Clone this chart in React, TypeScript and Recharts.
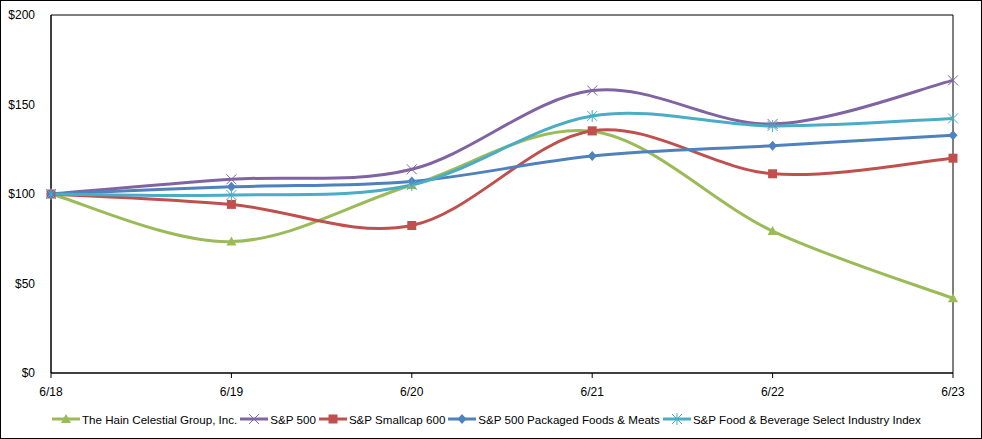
import React from "react";
import {
  LineChart,
  Line,
  XAxis,
  YAxis,
  ReferenceArea,
} from "recharts";

const periods = ["6/18", "6/19", "6/20", "6/21", "6/22", "6/23"];
const hain = [100, 73.4, 105, 135, 79.3, 41.7];
const sp500 = [100, 108.2, 113.8, 157.8, 139.1, 163.5];
const smallcap = [100, 94.2, 82.4, 135.3, 111.3, 120];
const packaged = [100, 104, 107, 121.2, 127, 132.8];
const foodBev = [100, 99.4, 105, 143.6, 138, 142.2];
const yTicks = [0, 50, 100, 150, 200];

const FONT = "'Liberation Sans', Arial, sans-serif";

const data = periods.map((p, i) => ({
  period: p,
  hain: hain[i],
  sp500: sp500[i],
  smallcap: smallcap[i],
  packaged: packaged[i],
  foodBev: foodBev[i],
}));

// Excel-style smoothed line (Catmull-Rom through the points)
function smoothCurve(context: any) {
  let pts: number[][] = [];
  return {
    areaStart() {},
    areaEnd() {},
    lineStart() {
      pts = [];
    },
    point(x: number, y: number) {
      pts.push([+x, +y]);
    },
    lineEnd() {
      if (!pts.length) return;
      context.moveTo(pts[0][0], pts[0][1]);
      for (let i = 0; i < pts.length - 1; i++) {
        const p0 = pts[i - 1] || pts[i];
        const p1 = pts[i];
        const p2 = pts[i + 1];
        const p3 = pts[i + 2] || p2;
        context.bezierCurveTo(
          p1[0] + (p2[0] - p0[0]) / 6,
          p1[1] + (p2[1] - p0[1]) / 6,
          p2[0] - (p3[0] - p1[0]) / 6,
          p2[1] - (p3[1] - p1[1]) / 6,
          p2[0],
          p2[1]
        );
      }
    },
  };
}

type Shape = "triangle" | "x" | "square" | "diamond" | "star";

function Marker({ cx, cy, shape, color }: { cx: number; cy: number; shape: Shape; color: string }) {
  if (cx == null || cy == null) return null;
  switch (shape) {
    case "triangle":
      return <polygon points={`${cx},${cy - 5} ${cx + 5},${cy + 4} ${cx - 5},${cy + 4}`} fill={color} />;
    case "square":
      return <rect x={cx - 4.5} y={cy - 4.5} width={9} height={9} fill={color} />;
    case "diamond":
      return <polygon points={`${cx},${cy - 5} ${cx + 4.5},${cy} ${cx},${cy + 5} ${cx - 4.5},${cy}`} fill={color} />;
    case "x":
      return (
        <g stroke={color} strokeWidth={1}>
          <line x1={cx - 5} y1={cy - 5} x2={cx + 5} y2={cy + 5} />
          <line x1={cx - 5} y1={cy + 5} x2={cx + 5} y2={cy - 5} />
        </g>
      );
    case "star":
      return (
        <g stroke={color} strokeWidth={1}>
          <line x1={cx - 5} y1={cy - 5} x2={cx + 5} y2={cy + 5} />
          <line x1={cx - 5} y1={cy + 5} x2={cx + 5} y2={cy - 5} />
          <line x1={cx} y1={cy - 6} x2={cx} y2={cy + 6} />
        </g>
      );
  }
  return null;
}

const series: { key: string; name: string; color: string; shape: Shape }[] = [
  { key: "hain", name: "The Hain Celestial Group, Inc.", color: "#9BBB59", shape: "triangle" },
  { key: "sp500", name: "S&P 500", color: "#8064A2", shape: "x" },
  { key: "smallcap", name: "S&P Smallcap 600", color: "#C0504D", shape: "square" },
  { key: "packaged", name: "S&P 500 Packaged Foods & Meats", color: "#4F81BD", shape: "diamond" },
  { key: "foodBev", name: "S&P Food & Beverage Select Industry Index", color: "#4BACC6", shape: "star" },
];

export default function App() {
  return (
    <div style={{ position: "absolute", left: 0, top: 0, width: 982, height: 439, background: "#fff" }}>
      <LineChart
        width={982}
        height={439}
        data={data}
        margin={{ top: 15, right: 29, left: 0, bottom: 36 }}
      >
        <XAxis
          dataKey="period"
          height={30}
          axisLine={{ stroke: "#000" }}
          tickLine={{ stroke: "#000" }}
          tickSize={5}
          tickMargin={9}
          tick={{ fill: "#000", fontSize: 12, fontFamily: FONT }}
          interval={0}
        />
        <YAxis
          width={51}
          domain={[0, 200]}
          ticks={yTicks}
          tickFormatter={(v) => `$${v}`}
          axisLine={{ stroke: "#000" }}
          tickLine={false}
          tickSize={0}
          tickMargin={16}
          tick={{ fill: "#000", fontSize: 12, fontFamily: FONT }}
        />
        <ReferenceArea
          x1="6/18"
          x2="6/23"
          y1={0}
          y2={200}
          stroke="#000"
          strokeWidth={1}
          fill="none"
          fillOpacity={0}
        />
        {series.map((s) => (
          <Line
            key={s.key}
            dataKey={s.key}
            name={s.name}
            type={smoothCurve as any}
            stroke={s.color}
            strokeWidth={3}
            isAnimationActive={false}
            dot={(props: any) => (
              <Marker key={`${s.key}-${props.index}`} cx={props.cx} cy={props.cy} shape={s.shape} color={s.color} />
            )}
            activeDot={false}
          />
        ))}
      </LineChart>
      <div
        style={{
          position: "absolute",
          left: 52,
          top: 412,
          display: "flex",
          alignItems: "center",
          fontFamily: FONT,
          fontSize: 11.6,
          color: "#000",
          whiteSpace: "nowrap",
        }}
      >
        {series.map((s) => (
          <div key={s.key} style={{ display: "flex", alignItems: "center", marginRight: 3 }}>
            <svg width={28} height={14} style={{ marginRight: 2 }}>
              <line x1={0} y1={7} x2={28} y2={7} stroke={s.color} strokeWidth={3} />
              <Marker cx={14} cy={7} shape={s.shape} color={s.color} />
            </svg>
            <span>{s.name}</span>
          </div>
        ))}
      </div>
      <div
        style={{
          position: "absolute",
          left: 0,
          top: 0,
          width: 982,
          height: 439,
          boxSizing: "border-box",
          border: "1px solid #000",
          pointerEvents: "none",
        }}
      />
    </div>
  );
}
